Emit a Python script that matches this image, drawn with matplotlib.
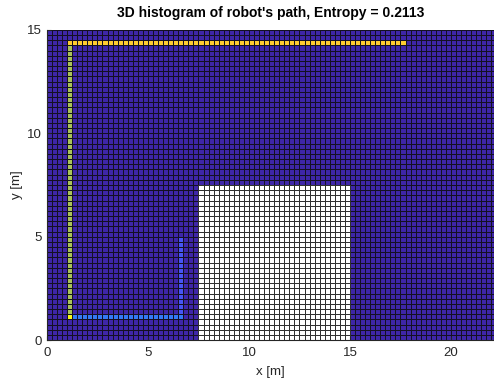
import numpy as np
import matplotlib.pyplot as plt
from matplotlib.colors import LinearSegmentedColormap

plt.rcParams['font.family'] = ['Liberation Sans', 'DejaVu Sans']

# occupancy grid
cell = 0.25
x_size, y_size = 22.5, 15.0
obstacle_x = [7.5, 15.0]
obstacle_y = [0.0, 7.5]

# robot path legs (cell corners in metres) and their histogram level
leg_start = [(6.5, 4.75), (6.5, 1.0), (1.0, 1.25), (1.0, 14.25)]
leg_end = [(6.5, 1.25), (1.25, 1.0), (1.0, 14.0), (17.5, 14.25)]
leg_level = [0.12, 0.21, 0.68, 0.88]
corner = (1.0, 1.0)
corner_level = 1.0

entropy = 0.2113

# parula-like colormap
parula = LinearSegmentedColormap.from_list('parula', [
    (0.0, (0.2422, 0.1504, 0.6603)),
    (7 / 63, (0.2810, 0.3228, 0.9579)),
    (15 / 63, (0.1786, 0.5289, 0.9682)),
    (23 / 63, (0.0689, 0.6948, 0.8394)),
    (31 / 63, (0.2161, 0.7843, 0.5923)),
    (39 / 63, (0.5044, 0.7993, 0.3480)),
    (47 / 63, (0.8185, 0.7327, 0.3498)),
    (55 / 63, (0.9955, 0.7861, 0.1967)),
    (1.0, (0.9769, 0.9839, 0.0805)),
])

nx, ny = int(round(x_size / cell)), int(round(y_size / cell))
hist = np.zeros((ny, nx))

def idx(v):
    return int(round(v / cell))

for (xa, ya), (xb, yb), lev in zip(leg_start, leg_end, leg_level):
    for i in range(min(idx(xa), idx(xb)), max(idx(xa), idx(xb)) + 1):
        for j in range(min(idx(ya), idx(yb)), max(idx(ya), idx(yb)) + 1):
            hist[j, i] = lev
hist[idx(corner[1]), idx(corner[0])] = corner_level

xe = np.arange(nx + 1) * cell
ye = np.arange(ny + 1) * cell

fig = plt.figure(figsize=(4.94, 3.83), dpi=100)
ax = fig.add_axes([0.095, 0.112, 0.905, 0.81])

ax.pcolormesh(xe, ye, hist, cmap=parula, vmin=0, vmax=1,
              edgecolors='#141024', linewidth=0.45)

# obstacle drawn on top in white
i0, i1 = idx(obstacle_x[0]), idx(obstacle_x[1])
j0, j1 = idx(obstacle_y[0]), idx(obstacle_y[1])
ax.pcolormesh(xe[i0:i1 + 1], ye[j0:j1 + 1], np.zeros((j1 - j0, i1 - i0)),
              cmap=LinearSegmentedColormap.from_list('w', ['white', 'white']),
              edgecolors='#303030', linewidth=0.45)

ax.set_xlim(0, (494 - 47) / 20.2)
ax.set_ylim(0, 15)
ax.set_xticks([0, 5, 10, 15, 20])
ax.set_yticks([0, 5, 10, 15])
ax.tick_params(direction='in', labelsize=9.5, colors='#262626', length=3)
ax.tick_params(axis='x', pad=5)
for s in ['top', 'right']:
    ax.spines[s].set_visible(False)
for s in ['left', 'bottom']:
    ax.spines[s].set_color('#262626')

ax.set_xlabel('x [m]', fontsize=9.5, color='#262626', labelpad=5)
ax.set_ylabel('y [m]', fontsize=9.5, color='#262626', labelpad=3)
ax.set_title("3D histogram of robot's path, Entropy = %.4f" % entropy,
             fontsize=10, fontweight='bold', pad=9)

fig.savefig('out.png', dpi=100)
